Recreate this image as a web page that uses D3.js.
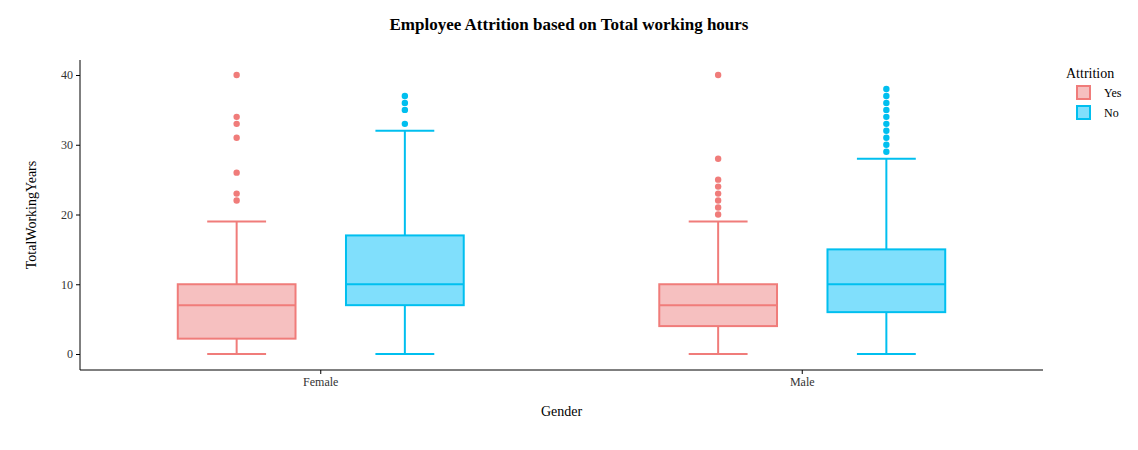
<!DOCTYPE html>
<html><head><meta charset="utf-8">
<script src="https://cdn.jsdelivr.net/npm/d3@7"></script>
<style>body{margin:0;background:#fff;font-family:"Liberation Serif",serif;}</style>
</head><body><svg id="c" width="1138" height="450"></svg>
<script>
// data
const genders = ['Female', 'Male'];
const attrition = ['Yes', 'No'];
const femaleYes = {q1: 2.2, med: 7, q3: 10, lo: 0, hi: 19, out: [22, 23, 26, 31, 33, 34, 40]};
const femaleNo = {q1: 7, med: 10, q3: 17, lo: 0, hi: 32, out: [33, 35, 36, 37]};
const maleYes = {q1: 4, med: 7, q3: 10, lo: 0, hi: 19, out: [20, 21, 22, 23, 24, 25, 28, 40]};
const maleNo = {q1: 6, med: 10, q3: 15, lo: 0, hi: 28, out: [29, 30, 31, 32, 33, 34, 35, 36, 37, 38]};
const yTicks = [0, 10, 20, 30, 40];

const boxes = [
  {g: 'Female', a: 'Yes', s: femaleYes}, {g: 'Female', a: 'No', s: femaleNo},
  {g: 'Male', a: 'Yes', s: maleYes}, {g: 'Male', a: 'No', s: maleNo}
];
const stroke = {Yes: '#f07c7a', No: '#00bfef'};
const fill = {Yes: '#f6c0c0', No: '#80dffc'};

const svg = d3.select('#c');
const mLeft = 80, mRight = 1043, mTop = 60, mBottom = 370;
const x = d3.scaleBand().domain(genders).range([mLeft, mRight]).paddingInner(0.2).paddingOuter(0.1);
const xs = d3.scaleBand().domain(attrition).range([0, x.bandwidth()]).paddingInner(0.3).paddingOuter(0.295);
const y = d3.scaleLinear().domain([0, 40]).range([354, 75]);

svg.append('g').attr('transform', `translate(${mLeft},0)`)
  .call(d3.axisLeft(y).tickValues(yTicks).tickSize(4).tickSizeOuter(0))
  .call(g => g.select('.domain').attr('d', `M0,${mTop}V${mBottom}`));
svg.append('g').attr('transform', `translate(0,${mBottom})`)
  .call(d3.axisBottom(x).tickSize(4).tickSizeOuter(0))
  .call(g => g.select('.domain').attr('d', `M${mLeft},0H${mRight}`));
svg.selectAll('.tick text').attr('font-family', 'Liberation Serif').attr('font-size', 12).attr('fill', '#333');

const bw = xs.bandwidth();
boxes.forEach(b => {
  const cx = x(b.g) + xs(b.a) + bw / 2, s = b.s, c = stroke[b.a];
  const g = svg.append('g').attr('stroke', c).attr('stroke-width', 2);
  g.append('line').attr('x1', cx).attr('x2', cx).attr('y1', y(s.lo)).attr('y2', y(s.q1));
  g.append('line').attr('x1', cx).attr('x2', cx).attr('y1', y(s.q3)).attr('y2', y(s.hi));
  [s.lo, s.hi].forEach(v => g.append('line').attr('x1', cx - bw / 4).attr('x2', cx + bw / 4).attr('y1', y(v)).attr('y2', y(v)));
  g.append('rect').attr('x', cx - bw / 2).attr('width', bw).attr('y', y(s.q3)).attr('height', y(s.q1) - y(s.q3)).attr('fill', fill[b.a]);
  g.append('line').attr('x1', cx - bw / 2).attr('x2', cx + bw / 2).attr('y1', y(s.med)).attr('y2', y(s.med));
  svg.append('g').selectAll('circle').data(s.out).join('circle')
    .attr('cx', cx).attr('cy', d => y(d)).attr('r', 3.2).attr('fill', c);
});

svg.append('text').attr('x', 569).attr('y', 30).attr('text-anchor', 'middle')
  .attr('font-size', 17).attr('font-weight', 'bold').text('Employee Attrition based on Total working hours');
svg.append('text').attr('x', (mLeft + mRight) / 2).attr('y', 416).attr('text-anchor', 'middle').attr('font-size', 14).text('Gender');
svg.append('text').attr('transform', 'translate(36,215) rotate(-90)').attr('text-anchor', 'middle').attr('font-size', 14).text('TotalWorkingYears');

const lg = svg.append('g').attr('transform', 'translate(1066,0)');
lg.append('text').attr('x', 0).attr('y', 78).attr('font-size', 14).text('Attrition');
attrition.forEach((a, i) => {
  const yy = 86 + i * 20;
  lg.append('rect').attr('x', 11).attr('y', yy).attr('width', 13).attr('height', 13)
    .attr('fill', fill[a]).attr('stroke', stroke[a]).attr('stroke-width', 2);
  lg.append('text').attr('x', 38).attr('y', yy + 11).attr('font-size', 12).text(a);
});
</script></body></html>
